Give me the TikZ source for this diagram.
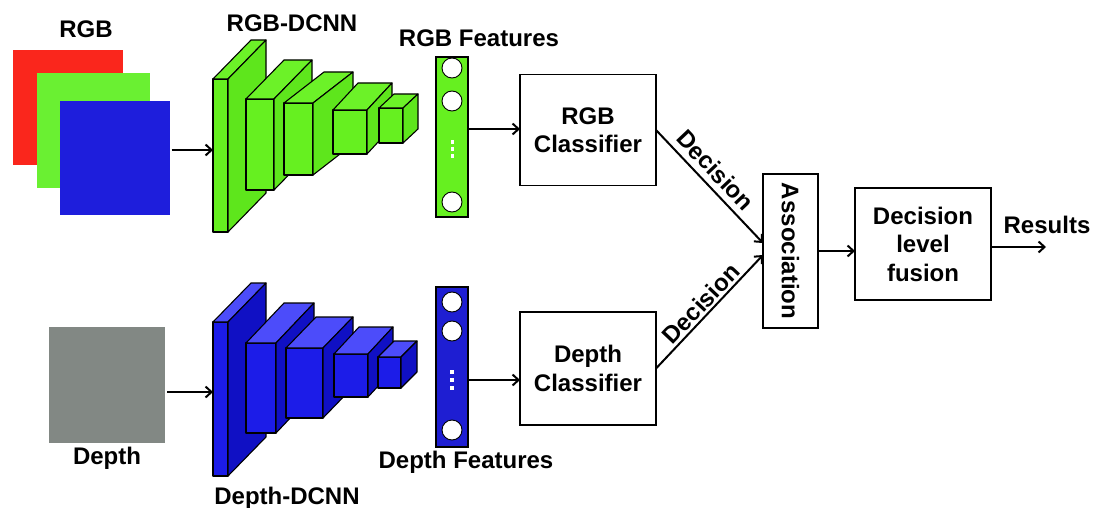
\documentclass[tikz,border=0pt]{standalone}
\usepackage{fontspec}
\usepackage{graphicx}
\setmainfont{Liberation Sans}
\usetikzlibrary{arrows.meta,calc}
\definecolor{gfront}{RGB}{102,240,32}
\definecolor{gtop}{RGB}{108,242,40}
\definecolor{gside}{RGB}{94,230,28}
\definecolor{dfront}{RGB}{28,28,232}
\definecolor{dtop}{RGB}{76,76,250}
\definecolor{dside}{RGB}{16,16,196}
\definecolor{rimg}{RGB}{250,38,28}
\definecolor{gimg}{RGB}{106,240,50}
\definecolor{bimg}{RGB}{30,30,220}
\definecolor{grayimg}{RGB}{130,136,132}
\definecolor{colblue}{RGB}{30,30,210}
\newcommand{\mkblock}[8]{%
  \node[blk, fill=#8front, minimum width={#4-#2}, minimum height={#5-#3}] (#1) at ({(#2+#4)/2},{(#3+#5)/2}) {};
  \draw[blkline, fill=#8top] (#1.north west) -- ++(#6,#7) -- ++({#4-#2},0) -- (#1.north east) -- cycle;
  \draw[blkline, fill=#8side] (#1.north east) -- ++(#6,#7) -- ++(0,{#5-#3}) -- (#1.south east) -- cycle;
}
\tikzset{
  txt/.style={font=\bfseries\fontsize{24}{28.5}\selectfont, inner sep=0pt},
  blk/.style={draw=black, line width=1.1pt, inner sep=0pt, outer sep=0pt, line join=round},
  blkline/.style={draw=black, line width=1.1pt, line join=round},
  img/.style={inner sep=0pt, outer sep=0pt},
  box/.style={draw=black, line width=1.1pt, inner sep=0pt, outer sep=0pt, align=center,
    font=\bfseries\fontsize{24}{28.5}\selectfont},
  fcol/.style={draw=black, line width=1.1pt, inner sep=0pt, outer sep=0pt, minimum width=32, minimum height=160},
  neuron/.style={circle, draw=black, line width=0.9pt, fill=white, minimum size=20, inner sep=0pt},
  arr/.style={line width=2pt, -{Straight Barb[length=6pt,width=11pt]}},
}
\begin{document}
\begin{tikzpicture}[x=1pt,y=-1pt]
\fill[white] (0,0) rectangle (1094,508);
\useasboundingbox (0,0) rectangle (1094,508);

% ---------- RGB branch ----------
\node[txt, anchor=base] (lrgb) at (86,38) {RGB};
\node[img, fill=rimg, minimum width=110, minimum height=115] (imgR) at (68,107.5) {};
\node[img, fill=gimg, minimum width=113, minimum height=115] (imgG) at (93.5,130.5) {};
\node[img, fill=bimg, minimum width=110, minimum height=114] (imgB) at (114.5,158) {};

\node[txt, anchor=base] (lrgbnet) at (292,32) {RGB-DCNN};
\mkblock{rgbA}{213}{79}{228}{232}{38}{-39}{g}
\mkblock{rgbB}{246}{99}{274}{190}{38}{-39}{g}
\mkblock{rgbC}{284}{103}{313}{175}{40}{-31}{g}
\mkblock{rgbD}{333}{110}{367}{154}{25}{-27}{g}
\mkblock{rgbE}{379}{108}{403}{143}{15}{-14}{g}

\coordinate (yr) at (0,150);
\draw[arr] (imgB.east |- yr) ++(2,0) -- (rgbA.west |- yr);

\node[txt, anchor=base] (lrgbf) at (479,47) {RGB Features};
\node[fcol, fill=gfront] (rcol) at (452,137) {};
\node[neuron] (rn1) at (452,68) {};
\node[neuron] (rn2) at (452,101) {};
\node[neuron] (rn3) at (452,202) {};
\foreach \yy in {140,147,154} \fill[white] (450.5,\yy) rectangle (453.5,\yy+3.5);

\node[box, minimum width=136, minimum height=111] (rcls) at (588,130) {RGB\\Classifier};
\coordinate (yrc) at (0,129);
\draw[arr] (rcol.east |- yrc) -- (rcls.west |- yrc);

% ---------- Depth branch ----------
\node[img, fill=grayimg, minimum width=116, minimum height=116] (imgD) at (107,385) {};
\node[txt, anchor=base] (ldepth) at (107,464) {Depth};

\node[txt, anchor=base] (ldepnet) at (287,504) {Depth-DCNN};
\mkblock{depA}{213}{322}{228}{476}{38}{-39}{d}
\mkblock{depB}{246}{343}{276}{433}{38}{-40}{d}
\mkblock{depC}{286}{348}{323}{418}{30}{-31}{d}
\mkblock{depD}{334}{354}{368}{397}{25}{-27}{d}
\mkblock{depE}{378}{357}{401}{388}{16}{-16}{d}

\coordinate (yd) at (0,392);
\draw[arr] (imgD.east |- yd) ++(2,0) -- (depA.west |- yd);

\node[txt, anchor=base] (ldepf) at (466,468) {Depth Features};
\node[fcol, fill=colblue] (dcol) at (452,367) {};
\node[neuron] (dn1) at (452,302) {};
\node[neuron] (dn2) at (452,331) {};
\node[neuron] (dn3) at (452,430) {};
\foreach \yy in {370,378,386} \fill[white] (450,\yy) rectangle (454,\yy+4);

\node[box, minimum width=136, minimum height=113] (dcls) at (588,368.5) {Depth\\Classifier};
\coordinate (ydc) at (0,380);
\draw[arr] (dcol.east |- ydc) -- (dcls.west |- ydc);

% ---------- Fusion ----------
\node[box, minimum width=55, minimum height=154] (assoc) at (790.5,251) {\rotatebox{-90}{Association}};
\coordinate (tipA) at ($(assoc.west)+(0,-8)$);
\coordinate (tipB) at ($(assoc.west)+(0,4)$);
\draw[arr] (rcls.east) -- node[txt, sloped, above=6pt, pos=0.45] (ldecA) {Decision} (tipA);
\draw[arr] (dcls.east) -- node[txt, sloped, above=2pt, pos=0.5] (ldecB) {Decision} (tipB);

\node[box, minimum width=136, minimum height=112] (fusion) at (923,244) {Decision\\level\\fusion};
\draw[arr] (assoc.east) -- (assoc.east -| fusion.west);

\coordinate (resend) at (1046,247);
\draw[arr] (fusion.east |- resend) -- (resend);
\node[txt, anchor=base] (lres) at (1047,233) {Results};
\end{tikzpicture}
\end{document}
